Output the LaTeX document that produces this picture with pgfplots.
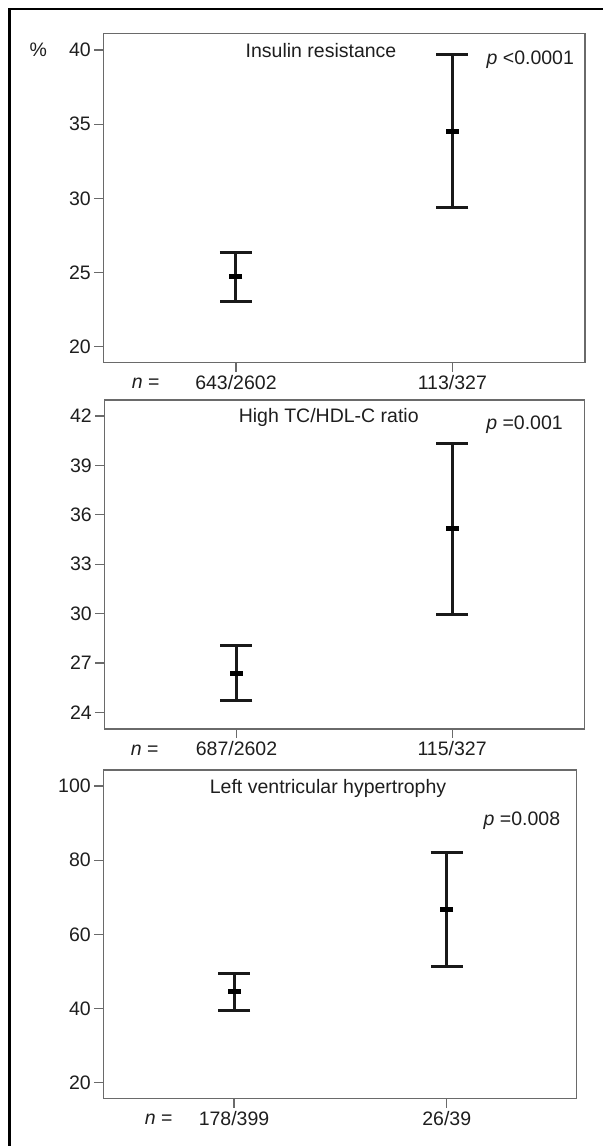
\documentclass[border=0pt]{standalone}
\usepackage{fontspec}
\setmainfont{Liberation Sans}
\usepackage{pgfplots}
\pgfplotsset{compat=1.18}
\usepackage{pgfplotstable}

\definecolor{axgray}{HTML}{6A6A6A}
\definecolor{txt}{HTML}{1E1E1E}

\pgfplotstableread{
x y ep em
1 24.72 1.66 1.69
2 34.54 5.19 5.17
}\dataA
\pgfplotstableread{
x y ep em
1 26.39 1.67 1.68
2 35.14 5.20 5.17
}\dataB
\pgfplotstableread{
x y ep em
1 44.5 5.07 4.90
2 66.8 15.2 15.5
}\dataC

\newcommand{\fs}{\fontsize{19.5}{22}\selectfont}

\pgfplotsset{
  panel/.style={
    scale only axis,
    axis line style={draw=axgray, line width=1.3pt},
    xtick={1,2},
    tick align=outside,
    major tick length=9pt,
    tick style={draw=axgray, line width=1.2pt},
    xtick pos=left, ytick pos=left,
    ticklabel style={font=\fs, text=txt},
    /pgf/number format/assume math mode=true,
    clip=false,
  },
  ebar/.style={
    only marks, mark=-, mark size=6.5pt,
    mark options={line width=5pt, draw=black},
    error bars/.cd, y dir=both, y explicit,
    error mark=|,
    error bar style={line width=3pt, draw=black!90},
    error mark options={line width=3pt, mark size=16pt, draw=black!90},
  },
}

\begin{document}
\begin{tikzpicture}
\useasboundingbox (0pt,0pt) rectangle (603pt,1146pt);
\draw[line width=2.4pt, black] (9.5pt,0pt) -- (9.5pt,1136.7pt) -- (603pt,1136.7pt);

% Panel 1
\begin{axis}[panel,
  at={(103.3pt,783.3pt)}, anchor=south west,
  width=481.7pt, height=329.4pt,
  xmin=0.387, xmax=2.613, ymin=18.92, ymax=41.13,
  ytick={20,25,30,35,40},
  xticklabels={643/2602,113/327},
]
\addplot[ebar] table[x=x, y=y, y error plus=ep, y error minus=em] {\dataA};
\node[font=\fs, text=txt] at (axis cs:1.393,40) {Insulin resistance};
\node[font=\fs, text=txt, anchor=west] at (axis cs:2.142,39.33) {\textit{p} <0.0001};
\node[font=\fs, text=txt, anchor=east] at ([yshift=-20.3pt]rel axis cs:0.124,0) {\textit{n} =};
\node[font=\fs, text=txt] at ([xshift=-65pt]axis cs:0.387,40) {\%};
\end{axis}

% Panel 2
\begin{axis}[panel,
  at={(104.3pt,417pt)}, anchor=south west,
  width=480pt, height=329pt,
  xmin=0.387, xmax=2.613, ymin=23.0, ymax=42.97,
  ytick={24,27,30,33,36,39,42},
  xticklabels={687/2602,115/327},
]
\addplot[ebar] table[x=x, y=y, y error plus=ep, y error minus=em] {\dataB};
\node[font=\fs, text=txt] at (axis cs:1.428,41.88) {High TC/HDL-C ratio};
\node[font=\fs, text=txt, anchor=west] at (axis cs:2.142,41.45) {\textit{p} =0.001};
\node[font=\fs, text=txt, anchor=east] at ([yshift=-21pt]rel axis cs:0.1205,0) {\textit{n} =};
\end{axis}

% Panel 3
\begin{axis}[panel,
  at={(103.3pt,47.3pt)}, anchor=south west,
  width=473.4pt, height=328.7pt,
  xmin=0.3855, xmax=2.611, ymin=15.7, ymax=104.3,
  ytick={20,40,60,80,100},
  xticklabels={178/399,26/39},
]
\addplot[ebar] table[x=x, y=y, y error plus=ep, y error minus=em] {\dataC};
\node[font=\fs, text=txt] at (axis cs:1.442,99.2) {Left ventricular hypertrophy};
\node[font=\fs, text=txt, anchor=west] at (axis cs:2.157,90.56) {\textit{p} =0.008};
\node[font=\fs, text=txt, anchor=east] at ([yshift=-20.6pt]rel axis cs:0.1535,0) {\textit{n} =};
\end{axis}
\end{tikzpicture}
\end{document}
